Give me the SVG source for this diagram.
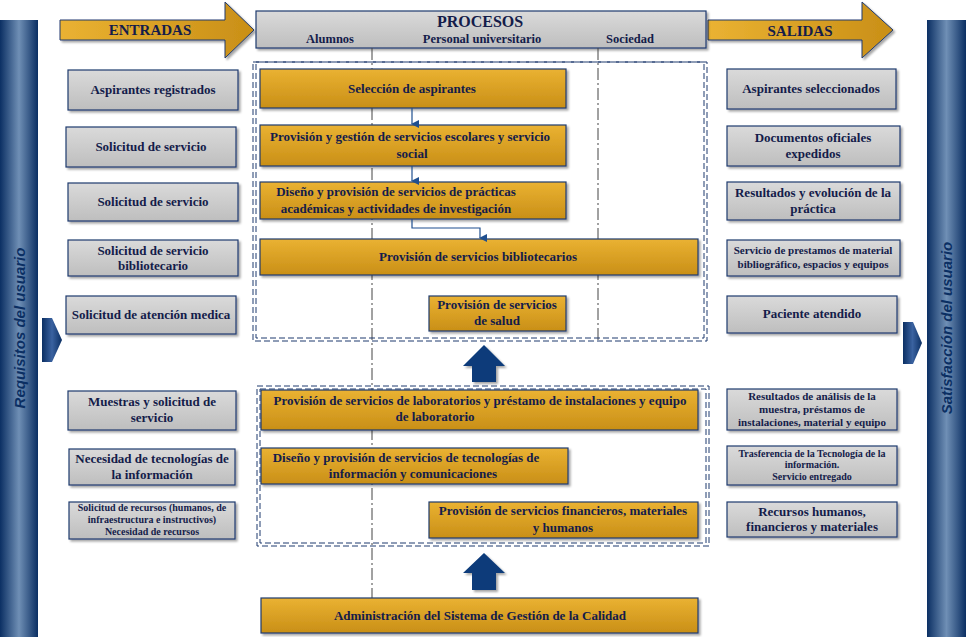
<svg xmlns="http://www.w3.org/2000/svg" width="966" height="637" viewBox="0 0 966 637">
<defs>
<linearGradient id="og" x1="0" y1="0" x2="0" y2="1"><stop offset="0" stop-color="#eab232"/><stop offset="1" stop-color="#c98f17"/></linearGradient>
<linearGradient id="oh" x1="0" y1="0" x2="1" y2="0"><stop offset="0" stop-color="#eab232"/><stop offset="1" stop-color="#c98f17"/></linearGradient>
<linearGradient id="gg" x1="0" y1="0" x2="0" y2="1"><stop offset="0" stop-color="#dadada"/><stop offset="1" stop-color="#bebebe"/></linearGradient>
<linearGradient id="bg" x1="0" y1="0" x2="1" y2="0"><stop offset="0" stop-color="#0b2f63"/><stop offset="0.5" stop-color="#6f8fb5"/><stop offset="1" stop-color="#0b2f63"/></linearGradient>
<linearGradient id="ag" x1="0" y1="0" x2="1" y2="0"><stop offset="0" stop-color="#0b2f63"/><stop offset="0.5" stop-color="#3a62a0"/><stop offset="1" stop-color="#0b2f63"/></linearGradient>
<filter id="sh" x="-5%" y="-10%" width="115%" height="130%"><feDropShadow dx="2" dy="2" stdDeviation="1" flood-color="#000" flood-opacity="0.35"/></filter>
<marker id="ar" markerWidth="8" markerHeight="8" refX="4" refY="7" orient="auto" markerUnits="userSpaceOnUse" viewBox="0 0 8 8"><path d="M0,0 L8,0 L4,8 Z" fill="#1f4f8f"/></marker>
</defs>
<style>
.o{fill:url(#og);stroke:#1f3a6e;stroke-width:1.2;filter:url(#sh)}
.g{fill:url(#gg);stroke:#1f3a6e;stroke-width:1.2;filter:url(#sh)}
text{font-family:"Liberation Serif",serif;font-weight:bold;fill:#141c4a;text-anchor:middle}
.t{font-size:13px}
.h{font-size:12.5px}
.s{font-size:11px}
.x{font-size:10px}
.dl{fill:none;stroke:#1f3a6e;stroke-width:1;stroke-dasharray:6,3}
.vl{fill:none;stroke:#444;stroke-width:1;stroke-dasharray:12,3,2,3}
.c{fill:none;stroke:#1f4f8f;stroke-width:1.2}
.side{font-family:"Liberation Sans",sans-serif;font-style:italic;font-size:15px;font-weight:bold;fill:#0b2f63}
</style>
<g id="bars">
<rect x="0" y="20" width="38" height="617" fill="url(#bg)"/>
<rect x="927" y="20" width="39" height="617" fill="url(#bg)"/>
<text transform="translate(25,328) rotate(-90)" class="side">Requisitos del usuario</text>
<text transform="translate(952,328) rotate(-90)" class="side">Satisfacción del usuario</text>
<path d="M42,318 L52,318 L62,340 L52,362 L42,362 Z" fill="url(#ag)"/>
<path d="M903,322 L913,322 L922,343 L913,364 L903,364 Z" fill="url(#ag)"/>
</g>
<g id="entradas"><path d="M60,20 L225,20 L225,2 L254,30 L225,58 L225,40 L60,40 Z" fill="url(#oh)" stroke="#1f3a6e" filter="url(#sh)"/><text x="150" y="35" style="font-size:15px">ENTRADAS</text></g>
<g id="salidas"><path d="M708,20 L862,20 L862,2 L893,30 L862,58 L862,40 L708,40 Z" fill="url(#oh)" stroke="#1f3a6e" filter="url(#sh)"/><text x="800" y="36" style="font-size:15px">SALIDAS</text></g>
<g id="procesos"><rect x="256" y="11" width="450" height="37" class="g"/><text x="480" y="27" style="font-size:16px">PROCESOS</text><text x="330" y="43" class="h">Alumnos</text><text x="482" y="43" class="h">Personal universitario</text><text x="630" y="43" class="h">Sociedad</text></g>
<g id="regions">
<line x1="372" y1="48" x2="372" y2="598" class="vl"/>
<line x1="598" y1="48" x2="598" y2="342" class="vl"/>
<rect x="253" y="62" width="454" height="279" class="dl"/>
<rect x="256" y="62" width="448" height="276" class="dl"/>
<rect x="257" y="386" width="452" height="160" class="dl"/>
<rect x="260" y="389" width="446" height="154" class="dl"/>
</g>
<g id="in1"><rect x="68" y="70" width="170" height="40" class="g"/><text x="153" y="94" class="t">Aspirantes registrados</text></g>
<g id="in2"><rect x="66" y="127" width="170" height="40" class="g"/><text x="151" y="151" class="t">Solicitud de servicio</text></g>
<g id="in3"><rect x="68" y="183" width="170" height="38" class="g"/><text x="153" y="206" class="t">Solicitud de servicio</text></g>
<g id="in4"><rect x="68" y="240" width="170" height="36" class="g"/><text x="153" y="255" class="t">Solicitud de servicio</text><text x="153" y="270" class="t">bibliotecario</text></g>
<g id="in5"><rect x="66" y="296" width="170" height="38" class="g"/><text x="151" y="319" class="t">Solicitud de atención medica</text></g>
<g id="in6"><rect x="68" y="391" width="168" height="39" class="g"/><text x="152" y="406" class="t">Muestras y solicitud de</text><text x="152" y="422" class="t">servicio</text></g>
<g id="in7"><rect x="69" y="449" width="166" height="36" class="g"/><text x="152" y="463" class="t">Necesidad de tecnologías de</text><text x="152" y="479" class="t">la información</text></g>
<g id="in8"><rect x="69" y="502" width="166" height="37" class="g"/><text x="152" y="511" class="x">Solicitud de recursos (humanos, de</text><text x="152" y="523" class="x">infraestructura e instructivos)</text><text x="152" y="535" class="x">Necesidad de recursos</text></g>
<g id="out1"><rect x="727" y="69" width="169" height="40" class="g"/><text x="811" y="93" class="t">Aspirantes seleccionados</text></g>
<g id="out2"><rect x="727" y="126" width="173" height="40" class="g"/><text x="813" y="142" class="t">Documentos oficiales</text><text x="813" y="158" class="t">expedidos</text></g>
<g id="out3"><rect x="727" y="182" width="173" height="38" class="g"/><text x="813" y="197" class="t">Resultados y evolución de la</text><text x="813" y="213" class="t">práctica</text></g>
<g id="out4"><rect x="727" y="240" width="173" height="36" class="g"/><text x="813" y="254" class="s">Servicio de prestamos de material</text><text x="813" y="268" class="s">bibliográfico, espacios y equipos</text></g>
<g id="out5"><rect x="727" y="296" width="170" height="37" class="g"/><text x="812" y="318" class="t">Paciente atendido</text></g>
<g id="out6"><rect x="727" y="389" width="170" height="41" class="g"/><text x="812" y="400" class="s">Resultados de análisis de la</text><text x="812" y="413" class="s">muestra, préstamos de</text><text x="812" y="426" class="s">instalaciones, material y equipo</text></g>
<g id="out7"><rect x="727" y="446" width="170" height="39" class="g"/><text x="812" y="457" class="x">Trasferencia de la Tecnología de la</text><text x="812" y="468" class="x">información.</text><text x="812" y="480" class="x">Servicio entregado</text></g>
<g id="out8"><rect x="727" y="502" width="170" height="35" class="g"/><text x="812" y="516" class="t">Recursos humanos,</text><text x="812" y="531" class="t">financieros y materiales</text></g>
<g id="pA"><rect x="260" y="69" width="306" height="39" class="o"/><text x="412" y="93" class="t">Selección de aspirantes</text></g>
<g id="pB"><rect x="260" y="125" width="306" height="41" class="o"/><text x="410" y="141" class="t">Provisión y gestión de servicios escolares y servicio</text><text x="412" y="158" class="t">social</text></g>
<g id="pC"><rect x="260" y="182" width="306" height="37" class="o"/><text x="396" y="196" class="t">Diseño y provisión de servicios de prácticas</text><text x="396" y="213" class="t">académicas y actividades de investigación</text></g>
<g id="pD"><rect x="260" y="239" width="438" height="36" class="o"/><text x="478" y="261" class="t">Provisión de servicios bibliotecarios</text></g>
<g id="pE"><rect x="429" y="296" width="137" height="35" class="o"/><text x="497" y="309" class="t">Provisión de servicios</text><text x="497" y="325" class="t">de salud</text></g>
<g id="pF"><rect x="261" y="390" width="437" height="40" class="o"/><text x="480" y="405" class="t">Provisión de servicios de laboratorios y préstamo de instalaciones y equipo</text><text x="435" y="421" class="t">de laboratorio</text></g>
<g id="pG"><rect x="261" y="448" width="307" height="36" class="o"/><text x="406" y="462" class="t">Diseño y provisión de servicios de tecnologías de</text><text x="413" y="478" class="t">información y comunicaciones</text></g>
<g id="pH"><rect x="429" y="502" width="269" height="36" class="o"/><text x="563" y="515" class="t">Provisión de servicios financieros, materiales</text><text x="563" y="532" class="t">y humanos</text></g>
<g id="pI"><rect x="261" y="598" width="437" height="35" class="o"/><text x="480" y="620" class="t">Administración del Sistema de Gestión de la Calidad</text></g>
<g id="connectors">
<path d="M412,108 L412,124" class="c" marker-end="url(#ar)"/>
<path d="M412,166 L412,181" class="c" marker-end="url(#ar)"/>
<path d="M412,219 L412,228 L480,228 L480,238" class="c" marker-end="url(#ar)"/>
<path d="M463,366 L484,345 L505,366 L496,366 L496,382 L472,382 L472,366 Z" fill="#0b3b7a" filter="url(#sh)"/>
<path d="M463,573 L484,553 L505,573 L496,573 L496,590 L472,590 L472,573 Z" fill="#0b3b7a" filter="url(#sh)"/>
</g>
</svg>
